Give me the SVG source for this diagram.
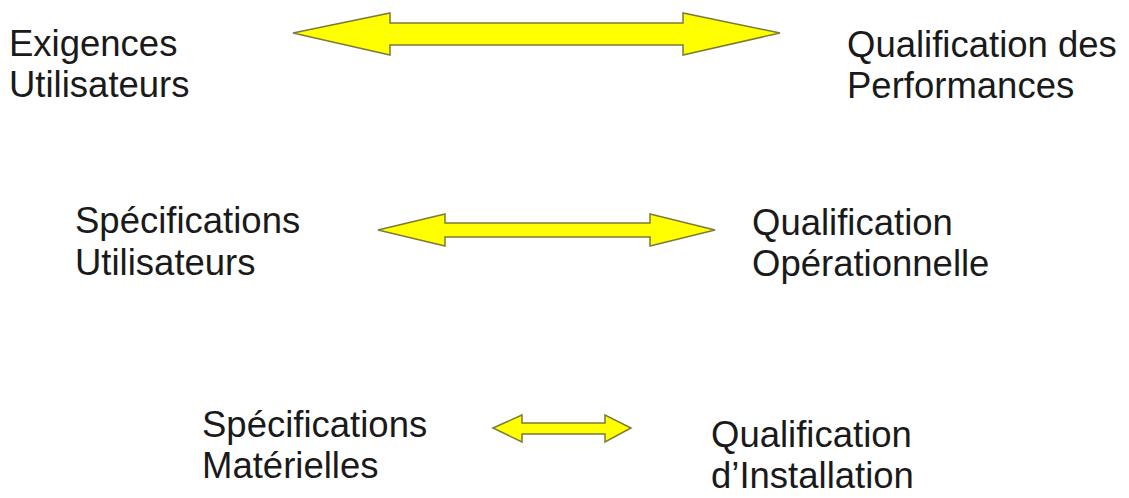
<svg xmlns="http://www.w3.org/2000/svg" width="1129" height="498" viewBox="0 0 1129 498">
<style>
text{font-family:"Liberation Sans",Arial,sans-serif;font-size:36.5px;fill:#1a1a1a}
.arr{fill:#ffff00;stroke:#7d7a3a;stroke-width:1.5;stroke-linejoin:miter}
</style>
<rect width="1129" height="498" fill="#ffffff"/>
<g id="connectors">
<polygon class="arr" points="293,33 390,13 390,23 683,23 683,13 780,33 683,55 683,45 390,45 390,55"/>
<polygon class="arr" points="378,230 445,214 445,223 650,223 650,214 715,230 650,246 650,237 445,237 445,246"/>
<polygon class="arr" points="493,428 522,415 522,423 605,423 605,415 631,428 605,442 605,434 522,434 522,442"/>
</g>
<g id="exigences-utilisateurs"><text x="9" y="56">Exigences</text><text x="9" y="97">Utilisateurs</text></g>
<g id="qualification-performances"><text x="847" y="57">Qualification des</text><text x="847" y="98">Performances</text></g>
<g id="specifications-utilisateurs"><text x="75" y="233">Spécifications</text><text x="75" y="275">Utilisateurs</text></g>
<g id="qualification-operationnelle"><text x="752" y="235">Qualification</text><text x="752" y="276">Opérationnelle</text></g>
<g id="specifications-materielles"><text x="202" y="437">Spécifications</text><text x="202" y="478">Matérielles</text></g>
<g id="qualification-installation"><text x="711" y="447">Qualification</text><text x="711" y="488">d’Installation</text></g>
</svg>
